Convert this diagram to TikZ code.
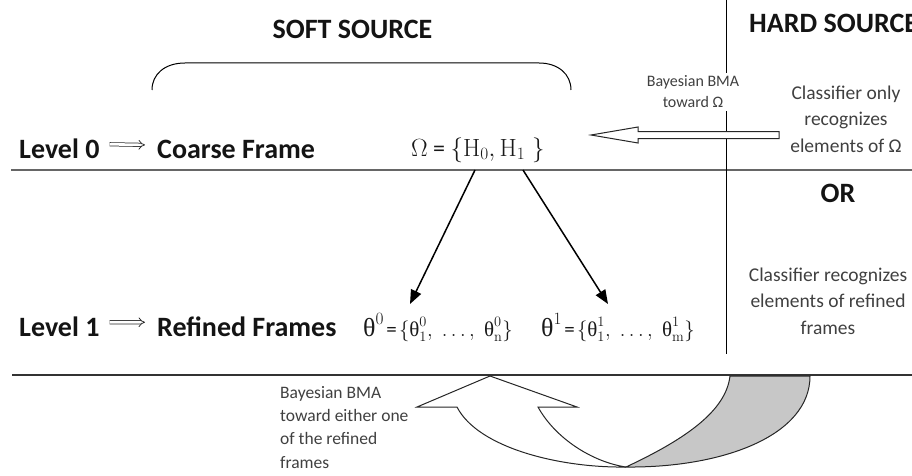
\documentclass[tikz,border=0pt]{standalone}
\usepackage[no-math]{fontspec}
\setmainfont{Carlito}
\newfontfamily\serf{Liberation Serif}
\usetikzlibrary{arrows.meta}
\newcommand\thup{\mbox{\serf θ}}
\newcommand\fs[2]{\fontsize{#1}{#2}\selectfont}

\begin{document}
\begin{tikzpicture}[x=1pt,y=-1pt,
  heading/.style={font=\fs{28}{30}\bfseries, text=black!92, inner sep=0pt},
  lvl/.style={font=\fs{28}{30}\bfseries, text=black!92, inner sep=0pt, anchor=base west},
  implies/.style={double, double distance=2.6pt, line width=0.75pt, draw=black!85, -{Implies[length=5pt]}},
  setexpr/.style={inner sep=0pt, anchor=base west, text=black!90},
  classnote/.style={font=\fs{19.5}{26.5}, text=black!75, inner sep=0pt, align=center, anchor=base},
  bmanote/.style={font=\fs{16}{21}, text=black!75, inner sep=0pt, align=center, anchor=base},
  bmalong/.style={font=\fs{17.5}{23.3}, text=black!75, inner sep=0pt, align=left, anchor=base west},
  rule/.style={line width=1.3pt},
  refine/.style={line width=1.5pt, -{Triangle[length=14pt,width=11pt]}},
  outline/.style={line width=1pt, draw=black!85}
]
\useasboundingbox (0,0) rectangle (912,476);

% frame rules
\draw[rule, draw=black!60] (11,170) -- (912,170);
\draw[rule, draw=black!80] (12,375) -- (912,375);
\draw[line width=1pt] (726,0) -- (726,354);

% headings
\node[heading, anchor=base] (soft) at (352.5,39) {SOFT SOURCE};
\node[heading, anchor=base west] (hard) at (749,33) {HARD SOURCE};
\node[heading, anchor=base] (or) at (838,202) {OR};

% brace over the soft source
\draw[line width=1pt] (152,90) .. controls (152,74) and (165,63) .. (185,63)
  -- (539,63) .. controls (558,63) and (571,74) .. (571,90);

% level rows
\node[lvl] (lv0) at (19,158) {Level 0};
\node[lvl] (coarse) at (157,158) {Coarse Frame};
\node[lvl] (lv1) at (19,336) {Level 1};
\node[lvl] (refined) at (157,336) {Refined Frames};
\draw[implies] ([xshift=10pt,yshift=4pt]lv0.east) -- ([xshift=-12pt,yshift=4pt]coarse.west);
\draw[implies] ([xshift=10pt,yshift=4pt]lv1.east) -- ([xshift=-12pt,yshift=4pt]refined.west);

% frames of discernment
\node[setexpr, font=\fs{24}{24}] (omega) at (411,156)
  {$\Omega$ = {\fs{26}{26}$\{\mathrm{H}_0, \mathrm{H}_1\;\}$}};
\node[setexpr] (th0) at (363,336)
  {{\fs{26}{26}$\thup^{0}$} {\fs{21}{21}=} {\fs{21}{21}$\{\thup^{0}_{1},\; \ldots,\; \thup^{0}_{\mathrm{n}}\}$}};
\node[setexpr] (th1) at (541,336)
  {{\fs{26}{26}$\thup^{1}$} {\fs{21}{21}=} {\fs{21}{21}$\{\thup^{1}_{1},\; \ldots,\; \thup^{1}_{\mathrm{m}}\}$}};

% refinement arrows
\coordinate (h0) at (475,170);
\coordinate (h1) at (523,170);
\coordinate (t0) at (410,304);
\coordinate (t1) at (608,304);
\draw[refine] (h0) -- (t0);
\draw[refine] (h1) -- (t1);

% hard source notes
\node[classnote] (cls0) at (846,152) {Classifier only\\recognizes\\elements of Ω};
\node[classnote] (cls1) at (828,334) {Classifier recognizes\\elements of refined\\frames};

% BMA toward the coarse frame
\node[bmanote, fill=white, inner sep=3pt] (bma0) at (693,108) {Bayesian BMA\\toward Ω};
\coordinate (a0) at (591,135);
\coordinate (a1) at (638,127);
\coordinate (a2) at (638,131.5);
\coordinate (a3) at (779,131.5);
\coordinate (a4) at (779,138.5);
\coordinate (a5) at (638,138.5);
\coordinate (a6) at (638,143);
\draw[outline, fill=white] (a0) -- (a1) -- (a2) -- (a3) -- (a4) -- (a5) -- (a6) -- cycle;

% BMA toward the refined frames: curved U-turn arrow
\node[bmalong] (bma1) at (280,468) {Bayesian BMA\\toward either one\\of the refined\\frames};
\coordinate (ue) at (626,467);
\coordinate (uf) at (730,376);
\coordinate (ug) at (810,376);
\draw[outline, fill=black!22] (ue) .. controls (688,438) and (726,410) .. (uf)
  -- (ug) .. controls (810,436) and (722,468) .. (ue) -- cycle;
\coordinate (tip) at (490,376);
\coordinate (hr) at (577,407);
\coordinate (sr) at (538,407);
\coordinate (sl) at (457,407);
\coordinate (hl) at (417,407);
\draw[outline, fill=white, line join=miter] (tip) -- (hr) -- (sr)
  .. controls (555,438) and (592,462) .. (ue)
  .. controls (560,468) and (478,448) .. (sl) -- (hl) -- cycle;
\end{tikzpicture}
\end{document}
